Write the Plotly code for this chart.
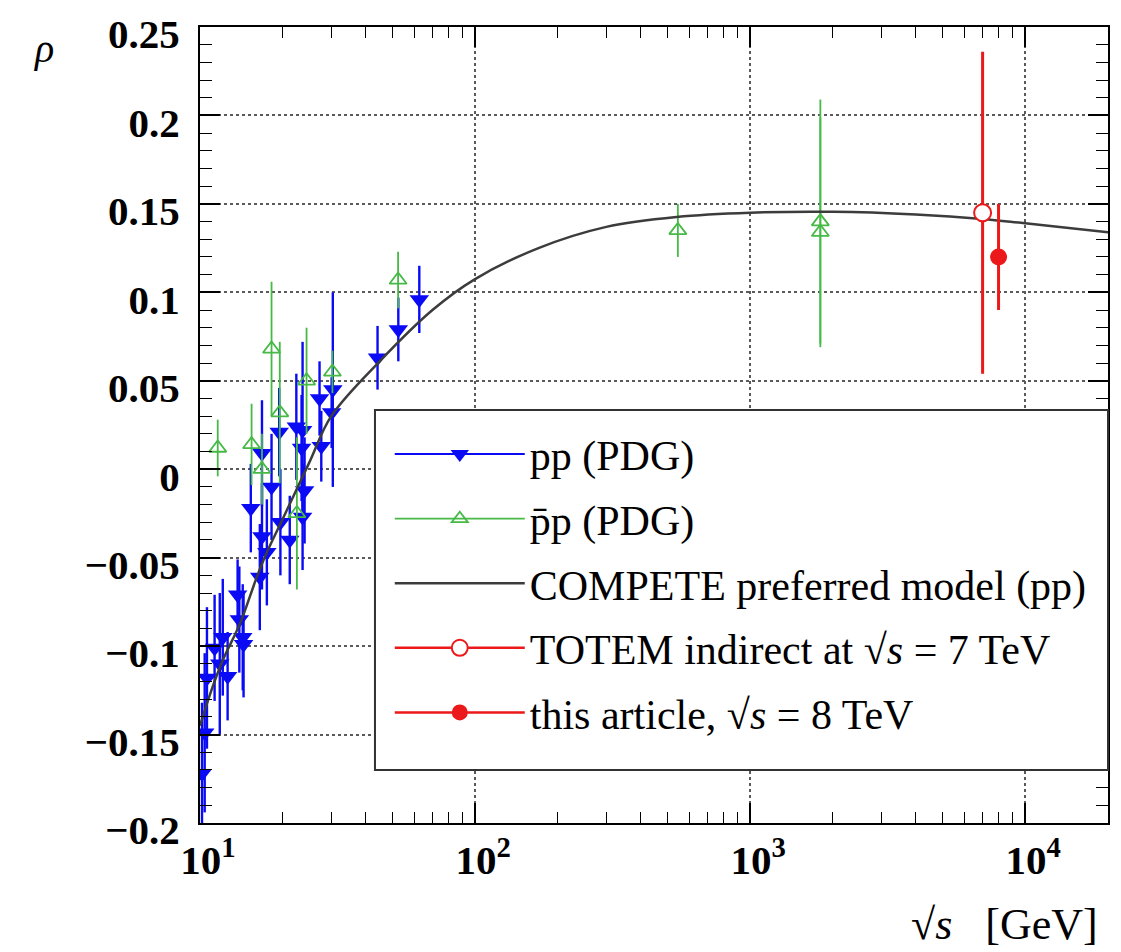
import plotly.graph_objects as go

# ---------------- data ----------------
pp_sqrts = [62.7, 52.6, 44.2, 30.4, 30.1, 27.2, 27.6, 23.6, 23.4, 19.4,
            16.8, 18.2, 15.3, 24.0, 23.6, 21.2, 16.8, 17.5, 16.5, 13.7,
            14.3, 14.4, 12.1, 11.3, 12.6, 10.6, 10.4, 10.17, 22.4, 19.6,
            13.9, 11.8]
pp_rho = [0.096, 0.079, 0.063, 0.045, 0.032, 0.040, 0.013, 0.022, 0.012, 0.021,
          0.009, -0.010, -0.022, -0.012, -0.027, -0.040, -0.038, -0.047, -0.061, -0.071,
          -0.095, -0.099, -0.095, -0.101, -0.117, -0.118, -0.149, -0.172, 0.024, -0.030,
          -0.085, -0.110]
pp_err = [0.019, 0.018, 0.018, 0.055, 0.020, 0.021, 0.020, 0.050, 0.030, 0.025,
          0.030, 0.030, 0.025, 0.030, 0.030, 0.025, 0.030, 0.030, 0.030, 0.020,
          0.030, 0.030, 0.033, 0.030, 0.025, 0.040, 0.045, 0.040, 0.030, 0.030,
          0.030, 0.040]

ppbar_sqrts = [11.6, 15.4, 18.2, 19.5, 24.4, 30.3, 52.5, 16.8, 22.5, 546.0, 1800.0, 1800.0]
ppbar_rho = [0.012, 0.014, 0.068, 0.032, 0.050, 0.055, 0.107, 0.000, -0.025, 0.135, 0.140, 0.134]
ppbar_err = [0.016, 0.023, 0.038, 0.040, 0.030, 0.012, 0.016, 0.020, 0.043, 0.015, 0.069, 0.065]

compete_sqrts = [10, 11, 12.1, 14, 16, 17.5, 20, 25, 30, 45, 70, 100, 170,
                 300, 540, 1000, 2000, 4000, 7000, 10000, 20000]
compete_rho = [-0.145, -0.125, -0.108, -0.087, -0.062, -0.047, -0.028, 0.004, 0.030,
               0.061, 0.090, 0.1075, 0.125, 0.137, 0.1426, 0.145, 0.1455,
               0.144, 0.1415, 0.139, 0.134]

totem7_sqrts = [7000.0]
totem7_rho = [0.145]
totem7_err = [0.091]

art8_sqrts = [8000.0]
art8_rho = [0.12]
art8_err = [0.03]

x_tickvals = [10, 100, 1000, 10000]
x_ticktext = ["10<sup>1</sup>", "10<sup>2</sup>", "10<sup>3</sup>", "10<sup>4</sup>"]
y_tickvals = [-0.2, -0.15, -0.1, -0.05, 0, 0.05, 0.1, 0.15, 0.2, 0.25]
y_ticktext = ["\u22120.2", "\u22120.15", "\u22120.1", "\u22120.05", "0",
              "0.05", "0.1", "0.15", "0.2", "0.25"]

BLUE = "rgb(10,10,245)"
GREEN = "rgb(70,185,70)"
RED = "rgb(235,25,25)"
CURVE = "rgb(60,60,60)"
FONT = "Liberation Serif"

fig = go.Figure()

# data traces
fig.add_trace(go.Scatter(
    x=pp_sqrts, y=pp_rho, mode="markers", showlegend=False,
    marker=dict(symbol="triangle-down", size=17, color=BLUE),
    error_y=dict(type="data", array=pp_err, color=BLUE, thickness=2.4, width=0)))
fig.add_trace(go.Scatter(
    x=ppbar_sqrts, y=ppbar_rho, mode="markers", showlegend=False,
    marker=dict(symbol="triangle-up-open", size=15, color=GREEN, line=dict(width=1.8, color=GREEN)),
    error_y=dict(type="data", array=ppbar_err, color=GREEN, thickness=1.8, width=0)))
fig.add_trace(go.Scatter(
    x=compete_sqrts, y=compete_rho, mode="lines", name="COMPETE preferred model (pp)",
    line=dict(color=CURVE, width=2.5, shape="spline", smoothing=1.0),
    legendrank=3, legendgroup="c"))
fig.add_trace(go.Scatter(
    x=totem7_sqrts, y=totem7_rho, mode="markers", showlegend=False,
    marker=dict(symbol="circle", size=17, color="white", line=dict(width=2, color=RED)),
    error_y=dict(type="data", array=totem7_err, color=RED, thickness=3, width=0)))
fig.add_trace(go.Scatter(
    x=art8_sqrts, y=art8_rho, mode="markers", showlegend=False,
    marker=dict(symbol="circle", size=17, color=RED),
    error_y=dict(type="data", array=art8_err, color=RED, thickness=3, width=0)))

# legend entries
fig.add_trace(go.Scatter(x=[None], y=[None], mode="lines+markers", name="pp (PDG)",
                         line=dict(color=BLUE, width=2), legendrank=1, legendgroup="a",
                         marker=dict(symbol="triangle-down", size=16, color=BLUE)))
fig.add_trace(go.Scatter(x=[None], y=[None], mode="lines+markers", name="p\u0304p (PDG)",
                         line=dict(color=GREEN, width=1.8), legendrank=2, legendgroup="b",
                         marker=dict(symbol="triangle-up-open", size=14, color=GREEN,
                                     line=dict(width=1.8, color=GREEN))))
fig.add_trace(go.Scatter(x=[None], y=[None], mode="lines+markers",
                         name="TOTEM indirect at \u221a<i>s</i> = 7 TeV",
                         line=dict(color=RED, width=2.5), legendrank=4, legendgroup="d",
                         marker=dict(symbol="circle", size=16, color="white",
                                     line=dict(width=2, color=RED))))
fig.add_trace(go.Scatter(x=[None], y=[None], mode="lines+markers",
                         name="this article, \u221a<i>s</i> = 8 TeV",
                         line=dict(color=RED, width=2.5), legendrank=5, legendgroup="e",
                         marker=dict(symbol="circle", size=16, color=RED)))

minor_x = [v * d for d in (10, 100, 1000) for v in range(2, 10)] + [20000]

fig.update_layout(
    width=1121, height=952,
    margin=dict(l=192, r=21, t=19, b=137, autoexpand=False),
    paper_bgcolor="white", plot_bgcolor="white",
    font=dict(family=FONT, color="black"),
    legend=dict(x=0.209, xanchor="left", y=0.506, yanchor="top",
                bgcolor="rgba(0,0,0,0)", borderwidth=0,
                font=dict(family=FONT, size=42, color="black"),
                itemwidth=130, tracegroupgap=7, traceorder="grouped",
                itemclick=False),
    shapes=[dict(type="rect", xref="paper", yref="paper", x0=0.1927, x1=1.0,
                 y0=0.0666, y1=0.5188, layer="above", fillcolor="white",
                 line=dict(color="rgb(50,50,50)", width=2))],
    xaxis=dict(type="log", range=[1, 4.301], tickmode="array", automargin=False,
               tickvals=x_tickvals, ticktext=x_ticktext, ticklabeloverflow="allow",
               ticklabelshift=8,
               ticks="inside", ticklen=20, tickwidth=1.5, tickcolor="black",
               showline=True, linecolor="black", linewidth=2, mirror="allticks",
               showgrid=True, gridcolor="rgb(90,90,90)", griddash="dot", gridwidth=1.5,
               zeroline=False,
               tickfont=dict(family=FONT, size=41, color="black", weight="bold"),
               minor=dict(tickmode="array", tickvals=minor_x, ticks="inside",
                          ticklen=11, tickwidth=1.3, tickcolor="black", showgrid=False)),
    yaxis=dict(range=[-0.2, 0.25], tickmode="array", automargin=False,
               tickvals=y_tickvals, ticktext=y_ticktext, ticklabeloverflow="allow",
               ticks="inside", ticklen=20, tickwidth=1.5, tickcolor="black",
               showline=True, linecolor="black", linewidth=2, mirror="allticks",
               showgrid=True, gridcolor="rgb(90,90,90)", griddash="dot", gridwidth=1.5,
               zeroline=False, ticklabelstandoff=10, ticklabelshift=7,
               tickfont=dict(family=FONT, size=41, color="black", weight="bold"),
               minor=dict(dtick=0.01, ticks="inside", ticklen=12, tickwidth=1.3,
                          tickcolor="black", showgrid=False)),
    annotations=[
        dict(text="<i>\u03c1</i>", xref="paper", yref="paper", x=-0.172, y=0.973,
             xanchor="center", yanchor="middle", showarrow=False,
             font=dict(family=FONT, size=40, color="black")),
        dict(text="\u221a<i>s</i>\u00a0\u00a0\u00a0[GeV]", xref="paper", yref="paper",
             x=0.991, y=-0.128, xanchor="right", yanchor="middle", showarrow=False,
             font=dict(family=FONT, size=44, color="black")),
    ],
)

fig.write_html("out.html")
